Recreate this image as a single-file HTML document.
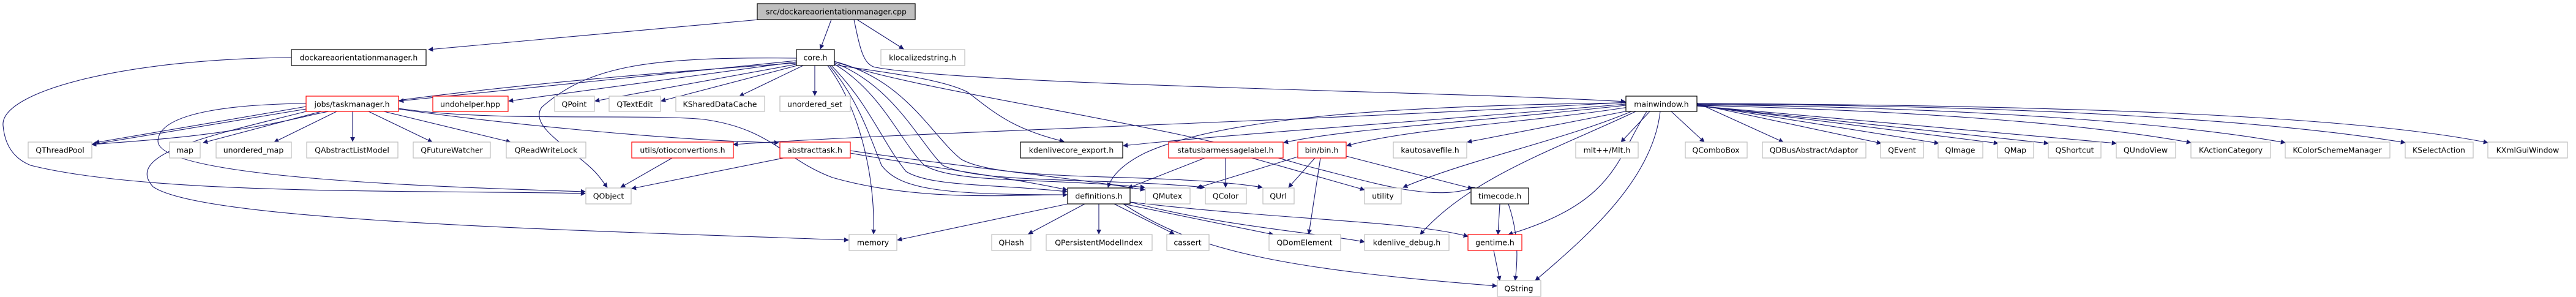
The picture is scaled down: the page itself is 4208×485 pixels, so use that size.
<!DOCTYPE html>
<html><head><meta charset="utf-8">
<style>
html,body{margin:0;padding:0;background:#fff;}
svg{display:block}
text{font-family:"DejaVu Sans","Liberation Sans",sans-serif;font-size:12.5px;fill:#000;text-anchor:middle;dominant-baseline:central}
.e{fill:none;stroke:#191970;stroke-width:1.1;marker-end:url(#a)}
.g{fill:#fff;stroke:#bfbfbf;stroke-width:1.2}
.r{fill:#fff;stroke:#ff0000;stroke-width:1.2}
.b{fill:#fff;stroke:#000;stroke-width:1.2}
</style></head><body>
<svg width="4208" height="485" viewBox="0 0 4208 485" xmlns="http://www.w3.org/2000/svg">
<defs><marker id="a" viewBox="0 0 10 10" refX="9" refY="5" markerWidth="8" markerHeight="8" markerUnits="userSpaceOnUse" orient="auto"><path d="M0,0L10,5L0,10z" fill="#191970"/></marker></defs>

<g>
<path class="e" d="M1240,32 L700,81"/>
<path class="e" d="M1358,32 L1340,80"/>
<path class="e" d="M1400,32 L1476,80"/>
<path class="e" d="M1395,32 C1405,80 1410,105 1430,110 C1600,140 2400,150 2655,166"/>
<path class="e" d="M476,94 C200,96 0,150 5,205 C8,240 25,260 50,270 C250,320 700,310 956,316"/>
<path class="e" d="M1301,99 L652,165"/>
<path class="e" d="M1301,101 L831,165"/>
<path class="e" d="M1306,104 L972,165"/>
<path class="e" d="M1306,106 L1080,165"/>
<path class="e" d="M1312,107 L1208,157"/>
<path class="e" d="M1331,107 L1331,156"/>
<path class="e" d="M1301,103 C900,130 600,165 500,190 C350,225 220,230 150,236"/>
<path class="e" d="M1301,95 C1050,92 960,110 885,175 C860,210 950,250 980,290 L992,306"/>
<path class="e" d="M1352,107 C1400,170 1430,280 1427,382"/>
<path class="e" d="M1355,107 C1400,160 1420,220 1440,270 C1470,310 1540,318 1743,318"/>
<path class="e" d="M1358,107 C1420,170 1440,230 1480,280 C1520,305 1620,300 1743,313"/>
<path class="e" d="M1362,104 C1440,150 1470,230 1510,270 C1560,300 1700,290 1870,306"/>
<path class="e" d="M1362,102 C1460,140 1500,230 1540,270 C1600,300 1800,290 1968,306"/>
<path class="e" d="M1362,100 C1480,130 1520,220 1570,260 C1640,300 1900,280 2062,306"/>
<path class="e" d="M1362,106 C1460,120 1540,130 1580,150 C1620,180 1650,210 1738,231"/>
<path class="e" d="M1362,100 C1500,150 1900,200 2130,270 C2250,300 2340,330 2409,306"/>
<path class="e" d="M500,178 L150,236"/>
<path class="e" d="M500,174 L155,233"/>
<path class="e" d="M525,182 L332,233"/>
<path class="e" d="M550,182 L448,232"/>
<path class="e" d="M576,182 L576,231"/>
<path class="e" d="M602,182 L706,232"/>
<path class="e" d="M627,182 L834,232"/>
<path class="e" d="M500,169 C400,170 260,180 258,230 C256,290 700,305 956,313"/>
<path class="e" d="M500,182 C350,220 200,250 250,305 C330,360 900,375 1386,392"/>
<path class="e" d="M651,178 C800,200 1100,230 1272,233"/>
<path class="e" d="M651,177 C800,200 1050,185 1150,195 C1260,210 1280,260 1360,290 C1500,330 1650,318 1743,318"/>
<path class="e" d="M1098,258 L1014,306"/>
<path class="e" d="M1280,258 L1032,308"/>
<path class="e" d="M1389,250 C1500,270 1650,290 1743,310"/>
<path class="e" d="M1389,246 C1550,270 1750,290 1870,310"/>
<path class="e" d="M2656,167 C2100,200 1500,215 1198,236"/>
<path class="e" d="M2656,170 C2300,200 2000,220 1835,238"/>
<path class="e" d="M2656,172 C2400,200 2200,210 2097,233"/>
<path class="e" d="M2660,175 C2500,200 2300,210 2200,238"/>
<path class="e" d="M2665,180 L2397,232"/>
<path class="e" d="M2695,182 L2648,232"/>
<path class="e" d="M2730,182 L2784,232"/>
<path class="e" d="M2656,168 C2300,172 2000,190 1870,250 C1830,270 1815,290 1810,306"/>
<path class="e" d="M2665,182 C2550,230 2400,260 2292,306"/>
<path class="e" d="M2672,182 C2550,240 2400,290 2320,383"/>
<path class="e" d="M2690,182 C2640,260 2640,330 2464,383"/>
<path class="e" d="M2712,182 C2700,290 2600,380 2508,458"/>
<path class="e" d="M2772,168 L2913,232"/>
<path class="e" d="M2772,170 L3073,234"/>
<path class="e" d="M2772,171 L3167,234"/>
<path class="e" d="M2772,172 L3264,234"/>
<path class="e" d="M2772,173 L3346,234"/>
<path class="e" d="M2772,173 L3457,234"/>
<path class="e" d="M2772,172 C3100,180 3400,200 3579,233"/>
<path class="e" d="M2772,171 C3200,175 3550,200 3733,233"/>
<path class="e" d="M2772,170 C3300,172 3700,195 3929,233"/>
<path class="e" d="M2772,169 C3400,172 3850,190 4064,233"/>
<path class="e" d="M1968,258 L1843,307"/>
<path class="e" d="M2002,258 L2002,306"/>
<path class="e" d="M2045,258 L2229,310"/>
<path class="e" d="M2120,256 L1955,307"/>
<path class="e" d="M2148,258 L2105,306"/>
<path class="e" d="M2157,258 L2138,382"/>
<path class="e" d="M2199,255 L2405,308"/>
<path class="e" d="M1744,333 L1466,392"/>
<path class="e" d="M1772,333 L1680,382"/>
<path class="e" d="M1795,333 L1795,382"/>
<path class="e" d="M1820,333 L1918,382"/>
<path class="e" d="M1835,333 L2080,383"/>
<path class="e" d="M1846,330 C2000,370 2150,380 2229,395"/>
<path class="e" d="M1846,330 C2100,360 2300,360 2398,386"/>
<path class="e" d="M1835,333 C1950,410 2100,440 2445,467"/>
<path class="e" d="M2450,333 L2447,383"/>
<path class="e" d="M2464,333 C2480,380 2480,420 2475,458"/>
<path class="e" d="M2440,409 L2450,458"/>
</g>

<g>
<rect x="1237" y="6" width="258" height="26" fill="#bfbfbf" stroke="#000" stroke-width="1.2"/><text x="1366" y="19">src/dockareaorientationmanager.cpp</text>
<rect class="b" x="476" y="81" width="220" height="26"/><text x="586" y="94">dockareaorientationmanager.h</text>
<rect class="b" x="1301" y="81" width="62" height="26"/><text x="1332" y="94">core.h</text>
<rect class="g" x="1439" y="81" width="137" height="26"/><text x="1507" y="94">klocalizedstring.h</text>

<rect class="r" x="500" y="157" width="151" height="25"/><text x="575" y="170">jobs/taskmanager.h</text>
<rect class="r" x="707" y="157" width="123" height="25"/><text x="768" y="170">undohelper.hpp</text>
<rect class="g" x="906" y="157" width="65" height="25"/><text x="938" y="170">QPoint</text>
<rect class="g" x="995" y="157" width="84" height="25"/><text x="1037" y="170">QTextEdit</text>
<rect class="g" x="1104" y="157" width="145" height="25"/><text x="1176" y="170">KSharedDataCache</text>
<rect class="g" x="1274" y="157" width="115" height="25"/><text x="1331" y="170">unordered_set</text>
<rect class="b" x="2656" y="157" width="116" height="25"/><text x="2714" y="170">mainwindow.h</text>

<rect class="g" x="46" y="232" width="104" height="26"/><text x="98" y="245">QThreadPool</text>
<rect class="g" x="277" y="232" width="50" height="26"/><text x="302" y="245">map</text>
<rect class="g" x="353" y="232" width="123" height="26"/><text x="414" y="245">unordered_map</text>
<rect class="g" x="501" y="232" width="149" height="26"/><text x="575" y="245">QAbstractListModel</text>
<rect class="g" x="675" y="232" width="126" height="26"/><text x="738" y="245">QFutureWatcher</text>
<rect class="g" x="827" y="232" width="130" height="26"/><text x="892" y="245">QReadWriteLock</text>
<rect class="r" x="1032" y="232" width="166" height="26"/><text x="1115" y="245">utils/otioconvertions.h</text>
<rect class="r" x="1274" y="232" width="115" height="26"/><text x="1331" y="245">abstracttask.h</text>
<rect class="b" x="1667" y="232" width="167" height="26"/><text x="1750" y="245">kdenlivecore_export.h</text>
<rect class="r" x="1909" y="232" width="187" height="26"/><text x="2002" y="245">statusbarmessagelabel.h</text>
<rect class="r" x="2120" y="232" width="79" height="26"/><text x="2159" y="245">bin/bin.h</text>
<rect class="g" x="2276" y="232" width="120" height="26"/><text x="2336" y="245">kautosavefile.h</text>
<rect class="g" x="2574" y="232" width="102" height="26"/><text x="2625" y="245">mlt++/Mlt.h</text>
<rect class="g" x="2753" y="232" width="101" height="26"/><text x="2803" y="245">QComboBox</text>
<rect class="g" x="2879" y="232" width="169" height="26"/><text x="2963" y="245">QDBusAbstractAdaptor</text>
<rect class="g" x="3072" y="232" width="70" height="26"/><text x="3107" y="245">QEvent</text>
<rect class="g" x="3166" y="232" width="73" height="26"/><text x="3202" y="245">QImage</text>
<rect class="g" x="3263" y="232" width="59" height="26"/><text x="3292" y="245">QMap</text>
<rect class="g" x="3346" y="232" width="86" height="26"/><text x="3389" y="245">QShortcut</text>
<rect class="g" x="3457" y="232" width="97" height="26"/><text x="3505" y="245">QUndoView</text>
<rect class="g" x="3579" y="232" width="130" height="26"/><text x="3644" y="245">KActionCategory</text>
<rect class="g" x="3733" y="232" width="171" height="26"/><text x="3818" y="245">KColorSchemeManager</text>
<rect class="g" x="3929" y="232" width="111" height="26"/><text x="3984" y="245">KSelectAction</text>
<rect class="g" x="4064" y="232" width="130" height="26"/><text x="4129" y="245">KXmlGuiWindow</text>

<rect class="g" x="957" y="307" width="74" height="26"/><text x="994" y="320">QObject</text>
<rect class="b" x="1744" y="307" width="102" height="26"/><text x="1795" y="320">definitions.h</text>
<rect class="g" x="1871" y="307" width="73" height="26"/><text x="1907" y="320">QMutex</text>
<rect class="g" x="1969" y="307" width="67" height="26"/><text x="2002" y="320">QColor</text>
<rect class="g" x="2063" y="307" width="51" height="26"/><text x="2088" y="320">QUrl</text>
<rect class="g" x="2229" y="307" width="60" height="26"/><text x="2259" y="320">utility</text>
<rect class="b" x="2403" y="307" width="94" height="26"/><text x="2450" y="320">timecode.h</text>

<rect class="g" x="1387" y="383" width="78" height="26"/><text x="1426" y="396">memory</text>
<rect class="g" x="1620" y="383" width="64" height="26"/><text x="1652" y="396">QHash</text>
<rect class="g" x="1709" y="383" width="173" height="26"/><text x="1795" y="396">QPersistentModelIndex</text>
<rect class="g" x="1906" y="383" width="69" height="26"/><text x="1940" y="396">cassert</text>
<rect class="g" x="2073" y="383" width="117" height="26"/><text x="2131" y="396">QDomElement</text>
<rect class="g" x="2229" y="383" width="138" height="26"/><text x="2298" y="396">kdenlive_debug.h</text>
<rect class="r" x="2398" y="383" width="88" height="26"/><text x="2442" y="396">gentime.h</text>

<rect class="g" x="2446" y="458" width="71" height="26"/><text x="2481" y="471">QString</text>
</g>
</svg>
</body></html>
